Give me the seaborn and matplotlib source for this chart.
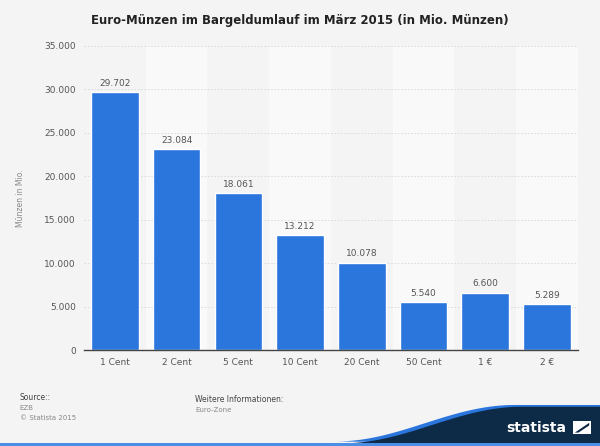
import numpy as np
import pandas as pd
import matplotlib
matplotlib.use('Agg')
import matplotlib.pyplot as plt
import seaborn as sns
from matplotlib.patches import Polygon, Rectangle

# Data
categories = ['1 Cent', '2 Cent', '5 Cent', '10 Cent', '20 Cent', '50 Cent', '1 €', '2 €']
values = [29702, 23084, 18061, 13212, 10078, 5540, 6600, 5289]
value_labels = ['29.702', '23.084', '18.061', '13.212', '10.078', '5.540', '6.600', '5.289']
y_ticks = [0, 5000, 10000, 15000, 20000, 25000, 30000, 35000]
y_ticklabels = ['0', '5.000', '10.000', '15.000', '20.000', '25.000', '30.000', '35.000']

df = pd.DataFrame({'Kategorie': categories, 'Anzahl': values})

sns.set_style('white')
plt.rcParams['font.family'] = ['DejaVu Sans']

bg = '#f4f4f4'
fig = plt.figure(figsize=(6.0, 4.46), dpi=100, facecolor=bg)
ax = fig.add_axes([0.14, 0.215, 0.823, 0.682])
ax.set_facecolor(bg)

# alternating lighter column bands
for i in range(len(categories)):
    if i % 2 == 1:
        ax.axvspan(i - 0.5, i + 0.5, color='#f9f9f9', zorder=0, lw=0)

sns.barplot(data=df, x='Kategorie', y='Anzahl', color='#2a76dd', width=0.77,
            saturation=1, ax=ax, zorder=3)

for i, (v, lab) in enumerate(zip(values, value_labels)):
    ax.text(i, v + 500, lab, ha='center', va='bottom', fontsize=6.5, color='#555555')

ax.set_xlim(-0.5, len(categories) - 0.5)
ax.set_ylim(0, 35000)
ax.set_yticks(y_ticks)
ax.set_yticklabels(y_ticklabels)
ax.yaxis.grid(True, color='#d8d8d8', linestyle=(0, (2, 2)), linewidth=0.6, zorder=1)
ax.set_axisbelow(True)
for s in ['top', 'right', 'left']:
    ax.spines[s].set_visible(False)
ax.spines['bottom'].set_color('#444444')
ax.spines['bottom'].set_linewidth(1.0)
ax.spines['bottom'].set_zorder(5)
ax.tick_params(axis='both', length=0, labelsize=6.5, colors='#555555', pad=6)
ax.set_xlabel('')
ax.set_ylabel('Münzen in Mio.', fontsize=5.5, color='#888888', labelpad=14)

fig.text(0.5, 0.953, 'Euro-Münzen im Bargeldumlauf im März 2015 (in Mio. Münzen)',
         ha='center', va='center', fontsize=8.5, fontweight='bold', color='#222222')

# footer
fig.text(0.033, 0.108, 'Source::', fontsize=5.5, color='#444444', va='center')
fig.text(0.033, 0.085, 'EZB', fontsize=5, color='#888888', va='center')
fig.text(0.033, 0.063, '© Statista 2015', fontsize=5, color='#888888', va='center')
fig.text(0.325, 0.104, 'Weitere Informationen:', fontsize=5.5, color='#444444', va='center')
fig.text(0.325, 0.081, 'Euro-Zone', fontsize=5, color='#888888', va='center')

# logo banner
base = 0.006
top = 0.088
t = np.linspace(0, 1, 60)
xs = 0.57 + 0.30 * t
ys = base + (top - base) * (1 - np.cos(np.pi * t)) / 2
fig.patches.append(Polygon([(x - 0.012, y + 0.004) for x, y in zip(xs, ys)] +
                           [(1.0, top + 0.004), (1.0, base)], closed=True,
                           transform=fig.transFigure, facecolor='#2a76dd', lw=0))
fig.patches.append(Polygon(list(zip(xs, ys)) + [(1.0, top), (1.0, base)], closed=True,
                           transform=fig.transFigure, facecolor='#0d2a46', lw=0))
fig.patches.append(Rectangle((0, 0), 1, base, transform=fig.transFigure,
                             facecolor='#4a8ee6', lw=0))
fig.text(0.893, 0.040, 'statista', fontsize=10, fontweight='bold', color='white',
         ha='center', va='center')
fig.patches.append(Rectangle((0.955, 0.027), 0.03, 0.028, transform=fig.transFigure,
                             facecolor='white', lw=0))
fig.patches.append(Polygon([(0.958, 0.030), (0.982, 0.052), (0.982, 0.046), (0.964, 0.030)],
                           closed=True, transform=fig.transFigure, facecolor='#0d2a46', lw=0))

fig.savefig('out.png', dpi=100, facecolor=bg)
